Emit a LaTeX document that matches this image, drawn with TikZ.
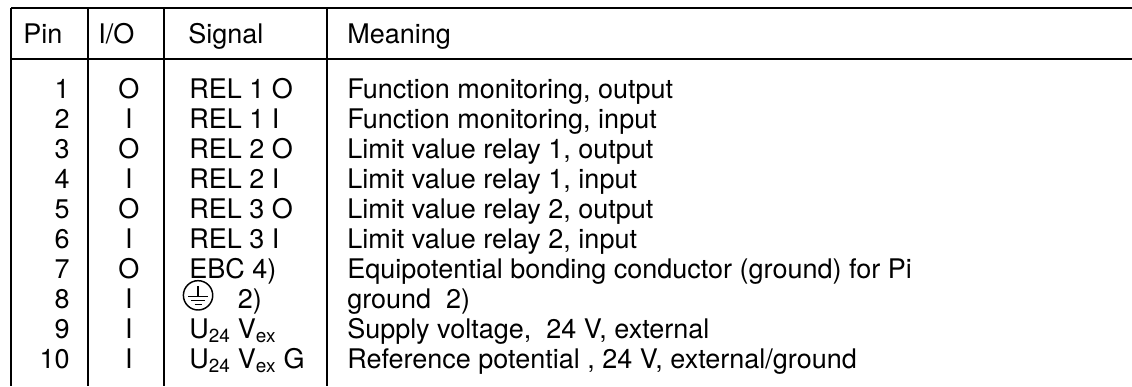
\documentclass[tikz,border=0pt]{standalone}
\usepackage{fontspec}
\setmainfont{TeX Gyre Heros}
\usetikzlibrary{calc}

\begin{document}
\begin{tikzpicture}[x=0.75pt,y=-0.75pt,
		cell/.style={inner sep=0pt, font=\fontsize{20.25}{24}\selectfont},
		hrule/.style={line width=1.5pt},
		vrule/.style={line width=1.1pt}]
	\useasboundingbox (0,0) rectangle (1132,386);

	% table rules
	\coordinate (ttop) at (11,8);
	\coordinate (thead) at (11,59);
	\draw[hrule] (ttop) -- (ttop -| 1132,0);
	\draw[hrule] (thead) -- (thead -| 1132,0);
	\foreach \x/\name in {11/cola,88/colb,164/colc,327/cold}{
		\coordinate (\name) at (\x,8);
		\draw[vrule] (\name) -- (\name |- 0,386);
	}

	% header
	\node[cell, anchor=base west] (hpin) at (23,43) {Pin};
	\node[cell, anchor=base west] (hio) at (98,43) {I/O};
	\node[cell, anchor=base west] (hsig) at (188,43) {Signal};
	\node[cell, anchor=base west] (hmean) at (347,43) {Meaning};

	% rows
	\foreach \n/\io/\sig/\txt [count=\i] in {
			1/O/{REL 1 O}/{Function monitoring, output},
			2/I/{REL 1 I}/{Function monitoring, input},
			3/O/{REL 2 O}/{Limit value relay 1, output},
			4/I/{REL 2 I}/{Limit value relay 1, input},
			5/O/{REL 3 O}/{Limit value relay 2, output},
			6/I/{REL 3 I}/{Limit value relay 2, input},
			7/O/{EBC 4)}/{Equipotential bonding conductor (ground) for Pi},
			8/I/{\hspace*{1.8em}2)}/{ground\ \ 2)},
			9/I/{U\textsubscript{24} V\textsubscript{ex}}/{Supply voltage,\ \ 24 V, external},
			10/I/{U\textsubscript{24} V\textsubscript{ex} G}/{Reference potential , 24 V, external/ground}}{
		\pgfmathsetmacro\yb{98+30*(\i-1)}
		\node[cell, anchor=base east] (pin\i) at (70,\yb) {\n};
		\node[cell, anchor=base] (io\i) at (129,\yb) {\io};
		\node[cell, anchor=base west] (sig\i) at (189,\yb) {\sig};
		\node[cell, anchor=base west] (mean\i) at (347,\yb) {\txt};
	}

	% circled earth symbol
	\node[draw, circle, line width=1.1pt, minimum size=22pt, inner sep=0pt] (pe)
		at ([xshift=6.8pt, yshift=9.5pt]sig8.base west) {};
	\draw[line width=1.1pt] ($(pe)+(0,-9)$) -- ($(pe)+(0,1)$);
	\draw[line width=1.1pt] ($(pe)+(-10,1)$) -- ($(pe)+(10,1)$);
	\draw[line width=1.1pt] ($(pe)+(-7,5)$) -- ($(pe)+(7,5)$);
	\draw[line width=1.1pt] ($(pe)+(-3.5,9)$) -- ($(pe)+(3.5,9)$);
\end{tikzpicture}
\end{document}
